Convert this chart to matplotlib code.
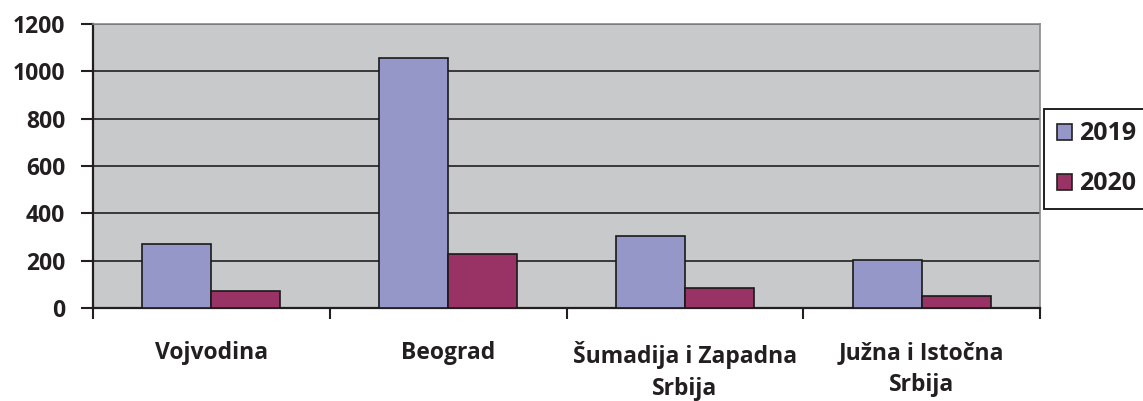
import matplotlib
matplotlib.use("Agg")
import matplotlib.pyplot as plt
import numpy as np
from matplotlib.patches import Rectangle

# data
regions = ["Vojvodina", "Beograd", "Šumadija i Zapadna\nSrbija", "Južna i Istočna\nSrbija"]
years = ["2019", "2020"]
values_2019 = [272, 1058, 304, 204]
values_2020 = [73, 227, 86, 51]
yticks = [0, 200, 400, 600, 800, 1000, 1200]

colors = ["#9597C9", "#993366"]
fontname = "Open Sans"
ink = "#231f20"

fig = plt.figure(figsize=(11.43, 4.01), dpi=100)
ax = fig.add_axes([93 / 1143, 1 - 308 / 401, (1040 - 93) / 1143, (308 - 24) / 401])
ax.set_facecolor("#C8C9CB")

x = np.arange(len(regions))
w = 0.291
ax.bar(x - w / 2, values_2019, w, color=colors[0], edgecolor="#1a1a1a", linewidth=1.2, zorder=3)
ax.bar(x + w / 2, values_2020, w, color=colors[1], edgecolor="#1a1a1a", linewidth=1.2, zorder=3)

ax.set_xlim(-0.5, len(regions) - 0.5)
ax.set_ylim(0, 1200)
ax.set_yticks(yticks)
ax.set_yticklabels([str(t) for t in yticks], fontsize=16.5, fontweight="bold",
                   fontname=fontname, color=ink)
ax.yaxis.grid(True, color=ink, linewidth=1.2)
ax.set_axisbelow(True)

# category labels centred, tick marks at the boundaries
ax.set_xticks(x)
ax.set_xticklabels(regions, fontsize=16.5, fontweight="bold", fontname=fontname,
                   color=ink, linespacing=1.45)
ax.tick_params(axis="x", which="major", length=0, pad=24)
ax.set_xticks(np.arange(-0.5, len(regions)), minor=True)
ax.tick_params(axis="x", which="minor", length=8, width=1.5, color=ink)
ax.tick_params(axis="y", length=9, width=1.5, color=ink, pad=11)

for side in ["left", "bottom"]:
    ax.spines[side].set_color(ink)
    ax.spines[side].set_linewidth(1.6)
for side in ["top", "right"]:
    ax.spines[side].set_color("#8a8a8a")
    ax.spines[side].set_linewidth(1.2)

handles = [Rectangle((0, 0), 1, 1, facecolor=c, edgecolor=ink, linewidth=1.2) for c in colors]
leg = fig.legend(handles, years, loc="upper left",
                 bbox_to_anchor=(1044 / 1143, 1 - 109 / 401),
                 prop={"family": fontname, "weight": "bold", "size": 18},
                 frameon=True, fancybox=False, framealpha=1, edgecolor=ink,
                 handlelength=0.6, handleheight=0.6, handletextpad=0.3,
                 labelspacing=1.0, borderpad=0.5, borderaxespad=0)
leg.get_frame().set_linewidth(1.4)
for t in leg.get_texts():
    t.set_color(ink)

fig.savefig("out.png", dpi=100)
